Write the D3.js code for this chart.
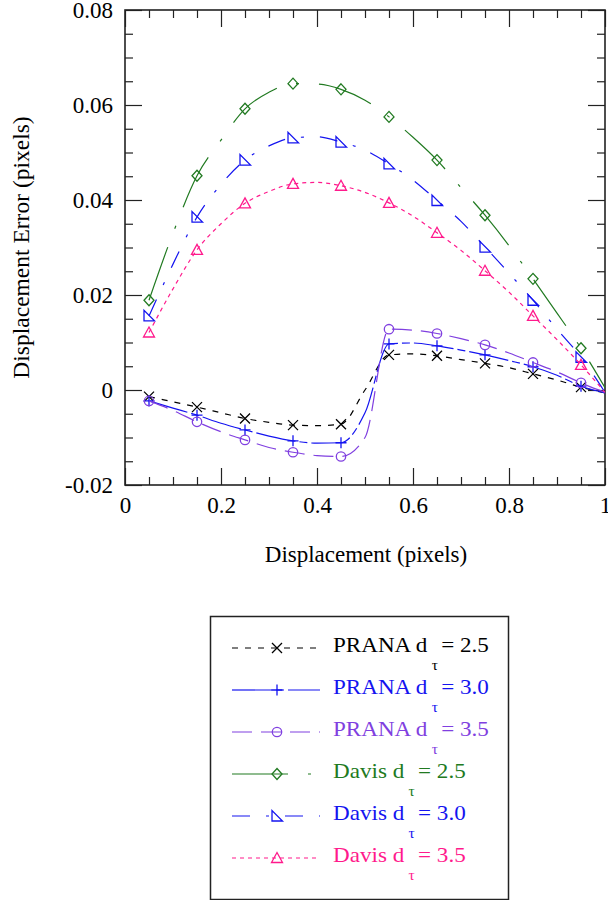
<!DOCTYPE html>
<html>
<head>
<meta charset="utf-8">
<script src="https://cdn.jsdelivr.net/npm/d3@7"></script>
<style>
body { margin: 0; background: #fff; }
svg text { font-family: "Liberation Serif", "Times New Roman", serif; }
</style>
</head>
<body>
<script>
// displacement values along the curves (pixels)
const xs = [0.05, 0.10, 0.15, 0.20, 0.25, 0.30, 0.35, 0.40, 0.45, 0.50,
    0.55, 0.60, 0.65, 0.70, 0.75, 0.80, 0.85, 0.90, 0.95, 1.00]

// markers sit on every other point (0.05, 0.15 ... 0.95)
const markerIdx = [0, 2, 4, 6, 8, 10, 12, 14, 16, 18]

const prana25 = [-0.0014, -0.0025, -0.0036, -0.0048, -0.0060, -0.0068, -0.0074, -0.0075, -0.0072, 0.0000,
    0.0074, 0.0076, 0.0072, 0.0064, 0.0056, 0.0047, 0.0034, 0.0021, 0.0006, -0.0006]
const prana30 = [-0.0023, -0.0038, -0.0053, -0.0070, -0.0084, -0.0097, -0.0107, -0.0112, -0.0111, -0.0048,
    0.0097, 0.0099, 0.0093, 0.0084, 0.0074, 0.0062, 0.0049, 0.0031, 0.0008, -0.0006]
const prana35 = [-0.0023, -0.0043, -0.0067, -0.0088, -0.0105, -0.0121, -0.0131, -0.0138, -0.0140, -0.0100,
    0.0128, 0.0126, 0.0119, 0.0108, 0.0095, 0.0078, 0.0058, 0.0038, 0.0015, -0.0005]
const davis25 = [0.0189, 0.0330, 0.0451, 0.0526, 0.0592, 0.0627, 0.0645, 0.0644, 0.0633, 0.0610,
    0.0575, 0.0532, 0.0484, 0.0426, 0.0368, 0.0304, 0.0234, 0.0162, 0.0088, 0.0005]
const davis30 = [0.0156, 0.0265, 0.0364, 0.0433, 0.0484, 0.0514, 0.0531, 0.0533, 0.0522, 0.0505,
    0.0476, 0.0442, 0.0399, 0.0355, 0.0301, 0.0246, 0.0189, 0.0128, 0.0069, -0.0005]
const davis35 = [0.0121, 0.0213, 0.0295, 0.0350, 0.0393, 0.0418, 0.0434, 0.0437, 0.0430, 0.0416,
    0.0394, 0.0366, 0.0331, 0.0294, 0.0251, 0.0206, 0.0156, 0.0106, 0.0053, -0.0005]

const names = ['PRANA d', 'PRANA d', 'PRANA d', 'Davis d', 'Davis d', 'Davis d']
const dtau = ['2.5', '3.0', '3.5', '2.5', '3.0', '3.5']

const yTicks = [-0.02, 0, 0.02, 0.04, 0.06, 0.08]
const xTicks = [0, 0.2, 0.4, 0.6, 0.8, 1]
const yMinors = d3.range(-0.02, 0.0801, 0.005).filter(v => Math.abs(Math.round(v * 1000) % 20) !== 0)
const xMinors = d3.range(0, 1.001, 0.05).filter(v => Math.abs(Math.round(v * 100) % 20) !== 0)

const series = [
    { values: prana25, color: '#000000', dash: '6,7', marker: 'x' },
    { values: prana30, color: '#1414f0', dash: '40,4,8,4', marker: 'plus' },
    { values: prana35, color: '#8040e0', dash: '20,9', marker: 'circle' },
    { values: davis25, color: '#217a21', dash: '56,20,3,20', marker: 'diamond' },
    { values: davis30, color: '#1414f0', dash: '18,16,3,16', marker: 'rtri' },
    { values: davis35, color: '#ff1a8c', dash: '4,4', marker: 'tri' },
]

let margin = { top: 10, left: 125 },
    width = 480,
    height = 475

const svg = d3.select('body').append('svg')
    .attr('width', 608)
    .attr('height', 900)

const g = svg.append('g')
    .attr('transform', `translate(${margin.left},${margin.top})`)

const x = d3.scaleLinear().domain([0, 1]).range([0, width])
const y = d3.scaleLinear().domain([-0.02, 0.08]).range([height, 0])

// plain hyphen for negatives, like the original
const fmtY = v => v === 0 ? '0' : v.toFixed(2)
const fmtX = v => v === 0 || v === 1 ? String(v) : v.toFixed(1)

// axes, ticks pointing inward on all four sides
const axes = g.append('g').attr('class', 'axes')
const styleAxis = sel => {
    sel.select('.domain').remove()
    sel.selectAll('line').attr('stroke', '#222').attr('stroke-width', 1.2)
    sel.attr('font-family', '"Liberation Serif", "Times New Roman", serif').attr('font-size', 23)
    sel.selectAll('text').attr('fill', '#000')
}
axes.append('g').call(d3.axisLeft(y).tickValues(yTicks).tickSize(-17).tickPadding(12).tickFormat(fmtY)).call(styleAxis)
axes.append('g').call(d3.axisLeft(y).tickValues(yMinors).tickSize(-8).tickFormat(() => '')).call(styleAxis)
axes.append('g').attr('transform', `translate(${width},0)`)
    .call(d3.axisRight(y).tickValues(yTicks).tickSize(-17).tickFormat(() => '')).call(styleAxis)
axes.append('g').attr('transform', `translate(${width},0)`)
    .call(d3.axisRight(y).tickValues(yMinors).tickSize(-8).tickFormat(() => '')).call(styleAxis)
axes.append('g').attr('transform', `translate(0,${height})`)
    .call(d3.axisBottom(x).tickValues(xTicks).tickSize(-17).tickPadding(12).tickFormat(fmtX)).call(styleAxis)
axes.append('g').attr('transform', `translate(0,${height})`)
    .call(d3.axisBottom(x).tickValues(xMinors).tickSize(-8).tickFormat(() => '')).call(styleAxis)
axes.append('g')
    .call(d3.axisTop(x).tickValues(xTicks).tickSize(-17).tickFormat(() => '')).call(styleAxis)
axes.append('g')
    .call(d3.axisTop(x).tickValues(xMinors).tickSize(-8).tickFormat(() => '')).call(styleAxis)

axes.append('rect')
    .attr('width', width)
    .attr('height', height)
    .attr('fill', 'none')
    .attr('stroke', '#222')
    .attr('stroke-width', 1.6)

axes.append('text')
    .attr('text-anchor', 'middle')
    .attr('transform', 'rotate(-90)')
    .attr('x', -(height / 2))
    .attr('y', 29 - margin.left)
    .attr('font-size', 23.5)
    .text('Displacement Error (pixels)')
axes.append('text')
    .attr('text-anchor', 'middle')
    .attr('x', width / 2 + 1)
    .attr('y', height + 77)
    .attr('font-size', 23)
    .text('Displacement (pixels)')

// marker shapes
const markerPath = type => {
    switch (type) {
        case 'x': return 'M-5,-5L5,5M-5,5L5,-5'
        case 'plus': return 'M-5.5,0H5.5M0,-5.5V5.5'
        case 'circle': return d3.arc()({ innerRadius: 0, outerRadius: 4.7, startAngle: 0, endAngle: 2 * Math.PI })
        case 'diamond': return 'M0,-5.5L5,0L0,5.5L-5,0Z'
        case 'rtri': return 'M-5,-5.5L-5,5L5.5,5Z'
        case 'tri': return 'M0,-5.5L5.5,4.5L-5.5,4.5Z'
    }
}

svg.append('defs').append('clipPath').attr('id', 'plot-clip')
    .append('rect').attr('width', width).attr('height', height)

const line = d3.line()
    .x(d => x(d.x))
    .y(d => y(d.y))
    .curve(d3.curveMonotoneX)

const l = g.append('g').attr('class', 'lines').attr('clip-path', 'url(#plot-clip)')

series.forEach((s, i) => {
    const data = xs.map((v, j) => ({ x: v, y: s.values[j] }))
    l.append('path')
        .datum(data)
        .attr('d', line)
        .attr('fill', 'none')
        .attr('stroke', s.color)
        .attr('stroke-width', 1.2)
        .attr('stroke-dasharray', s.dash)
    l.selectAll(`.symbol-${i}`)
        .data(markerIdx.map(j => data[j]))
        .enter().append('path')
        .attr('class', `symbol-${i}`)
        .attr('transform', d => `translate(${x(d.x)},${y(d.y)})`)
        .attr('d', markerPath(s.marker))
        .attr('fill', 'none')
        .attr('stroke', s.color)
        .attr('stroke-width', 1.3)
})

// legend
const legend = svg.append('g').attr('class', 'legend')
legend.append('rect')
    .attr('x', 210.5)
    .attr('y', 616.5)
    .attr('width', 298)
    .attr('height', 283)
    .attr('fill', '#fff')
    .attr('stroke', '#222')
    .attr('stroke-width', 1.5)

series.forEach((s, i) => {
    const h = 648 + i * 42
    legend.append('line')
        .attr('x1', 232).attr('x2', 320)
        .attr('y1', h).attr('y2', h)
        .attr('stroke', s.color)
        .attr('stroke-width', 1.2)
        .attr('stroke-dasharray', s.dash)
    legend.append('path')
        .attr('transform', `translate(277,${h})`)
        .attr('d', markerPath(s.marker))
        .attr('fill', 'none')
        .attr('stroke', s.color)
        .attr('stroke-width', 1.3)
    // the original legend type is a little wider than Times
    const t = legend.append('text')
        .attr('transform', `translate(333,${h + 4}) scale(1.1,1)`)
        .attr('font-size', 21)
        .attr('fill', s.color)
    t.append('tspan').text(names[i])
    t.append('tspan').attr('font-size', 14).attr('dx', 4).attr('dy', 18).text('τ')
    t.append('tspan').attr('dx', 3).attr('dy', -18).text('= ' + dtau[i])
})
</script>
</body>
</html>
